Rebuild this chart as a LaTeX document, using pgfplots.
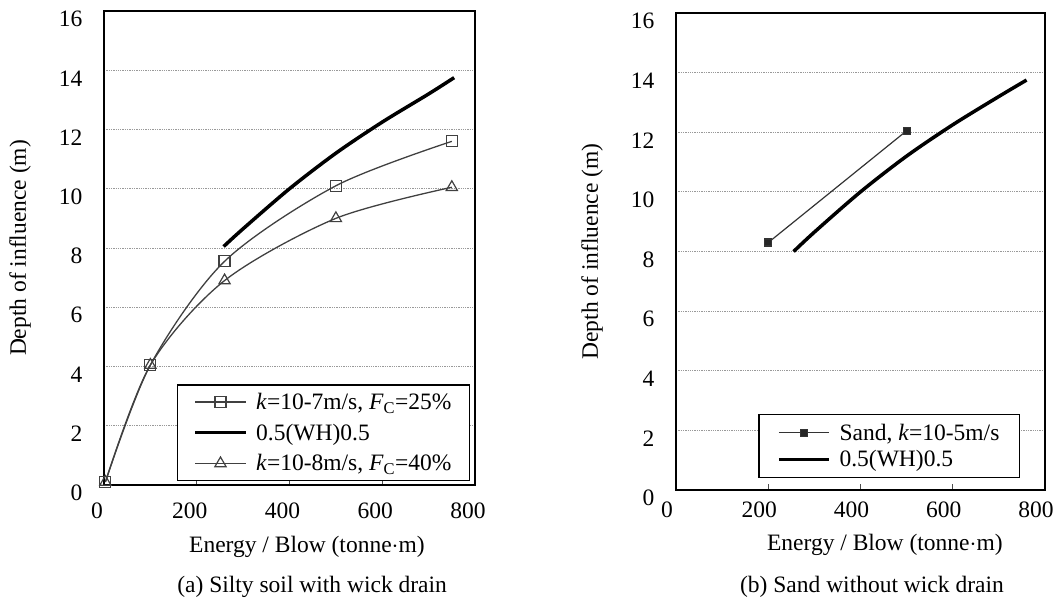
\documentclass[border=0pt]{standalone}
\usepackage{fontspec}
\setmainfont{Liberation Serif}
\usepackage{pgfplots}
\pgfplotsset{compat=1.18}
\newcommand{\bigf}{\fontsize{23.5}{27}\selectfont}
\pgfplotsset{
  myax/.style={
    scale only axis, clip=false,
    xmin=0, xmax=800, ymin=0, ymax=16,
    xtick={0,200,...,800}, ytick={0,2,...,16},
    ymajorgrids, grid style={densely dotted, black!40, line width=0.9pt},
    axis line style={line width=1.8pt},
    tick align=inside, xtick pos=left, major tick length=6pt,
    xtick style={line width=1pt, black!70},
    ytick style={draw=none},
    /pgf/number format/assume math mode=true,
    tick label style={font=\bigf},
    label style={font=\bigf},
    yticklabel style={xshift=-18pt, yshift=-8pt},
    legend cell align=left,
    legend style={font=\bigf, draw=black, line width=1.2pt,
      inner xsep=16pt, inner ysep=6pt, anchor=south east, column sep=7pt},
    legend image code/.code={\draw[mark repeat=2,mark phase=2] plot coordinates {(0pt,0pt) (25pt,0pt) (50pt,0pt)};},
    xlabel={Energy / Blow (tonne$\cdot$m)},
    ylabel={Depth of influence (m)},
  },
  thin/.style={line width=1.3pt, black!75, smooth},
  thick/.style={line width=3.5pt, black, smooth, no markers},
}
\begin{document}
\begin{tikzpicture}[x=1pt,y=1pt]
\useasboundingbox (0,0) rectangle (1056,599);
% left panel
\begin{axis}[myax, at={(104pt,114pt)}, anchor=origin, width=371pt, height=474pt,
  xticklabel style={xshift=-7pt, yshift=-14pt},
  xlabel style={at={(axis description cs:0.547,-0.131)}, anchor=center},
  ylabel style={at={(axis description cs:-0.2264,0.5)}, anchor=center},
  legend style={at={(axis description cs:1,0)}, xshift=-5pt, yshift=4pt, row sep=9pt},
  extra description/.code={\node[font=\bigf] at (0.561,-0.215) {(a) Silty soil with wick drain};},
]
\addplot[thin, mark=square, mark size=5.5pt, mark options={fill=white, line width=1.2pt, solid}]
  coordinates {(3,0.1) (100,4.05) (260,7.55) (500,10.1) (750,11.6)};
\addlegendentry{\textit{k}=10-7m/s, \textit{F}\textsubscript{C}=25\%}
\addplot[thick]
  coordinates {(258,8.05) (300,8.65) (400,10.0) (500,11.2) (600,12.25) (700,13.2) (755,13.75)};
\addlegendentry{0.5(WH)0.5}
\addplot[thin, mark=triangle, mark size=6.5pt, mark options={fill=white, line width=1.2pt, solid}]
  coordinates {(3,0.1) (100,4.05) (260,6.9) (500,9.0) (750,10.05)};
\addlegendentry{\textit{k}=10-8m/s, \textit{F}\textsubscript{C}=40\%}
\end{axis}
% right panel
\begin{axis}[myax, at={(676pt,109pt)}, anchor=origin, width=369pt, height=477pt,
  xticklabel style={xshift=-9pt, yshift=-8pt},
  xlabel style={at={(axis description cs:0.566,-0.115)}, anchor=center},
  ylabel style={at={(axis description cs:-0.2276,0.5)}, anchor=center},
  legend style={at={(axis description cs:1,0)}, xshift=-25pt, yshift=12pt, row sep=5pt, inner ysep=7pt, inner xsep=18pt},
  extra description/.code={\node[font=\bigf] at (0.531,-0.203) {(b) Sand without wick drain};},
]
\addplot[line width=1.2pt, black!80, mark=square*, mark size=3.5pt, mark options={fill=black!85, solid}]
  coordinates {(200,8.3) (500,12.05)};
\addlegendentry{Sand, \textit{k}=10-5m/s}
\addplot[thick]
  coordinates {(255,8.0) (300,8.65) (400,10.0) (500,11.2) (600,12.25) (700,13.2) (760,13.75)};
\addlegendentry{0.5(WH)0.5}
\end{axis}
\end{tikzpicture}
\end{document}
